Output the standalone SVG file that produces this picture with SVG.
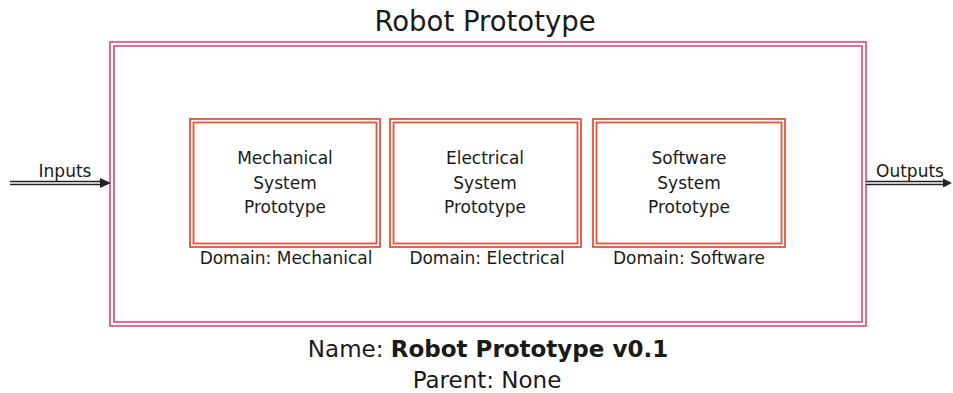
<svg xmlns="http://www.w3.org/2000/svg" width="953" height="393" viewBox="0 0 953 393">
  <style>
    .frame { fill: none; stroke: #e8588a; stroke-width: 1.8; }
    .box { fill: none; stroke: #e8503a; stroke-width: 1.8; }
    .t { font-family: "DejaVu Sans", Lato, sans-serif; fill: #1a1a1a; text-anchor: middle; }
    .lbl { font-size: 17px; }
    .wire { fill: none; stroke: #222; stroke-width: 4.5; }
    .core { fill: none; stroke: #fff; stroke-width: 1.3; }
  </style>

  <!-- system frame -->
  <g id="robot-prototype">
    <text class="t" x="485" y="31" font-size="27.5">Robot Prototype</text>
    <rect class="frame" x="110" y="42" width="756" height="284"/>
    <rect class="frame" x="114" y="46" width="748" height="276"/>
    <text class="t" x="488" y="357" font-size="23">Name: <tspan font-weight="bold">Robot Prototype v0.1</tspan></text>
    <text class="t" x="487" y="388" font-size="23">Parent: None</text>
  </g>

  <g id="mechanical">
    <rect class="box" x="190" y="119" width="190" height="128"/>
    <rect class="box" x="193.5" y="122.5" width="183" height="121"/>
    <text class="t lbl" x="285" y="164">Mechanical</text>
    <text class="t lbl" x="285" y="189">System</text>
    <text class="t lbl" x="285" y="213">Prototype</text>
    <text class="t lbl" x="286" y="264">Domain: Mechanical</text>
  </g>

  <g id="electrical">
    <rect class="box" x="390" y="119" width="191" height="128"/>
    <rect class="box" x="393.5" y="122.5" width="184" height="121"/>
    <text class="t lbl" x="485" y="164">Electrical</text>
    <text class="t lbl" x="485" y="189">System</text>
    <text class="t lbl" x="485" y="213">Prototype</text>
    <text class="t lbl" x="487" y="264">Domain: Electrical</text>
  </g>

  <g id="software">
    <rect class="box" x="593" y="119" width="192" height="128"/>
    <rect class="box" x="596.5" y="122.5" width="185" height="121"/>
    <text class="t lbl" x="689" y="164">Software</text>
    <text class="t lbl" x="689" y="189">System</text>
    <text class="t lbl" x="689" y="213">Prototype</text>
    <text class="t lbl" x="689" y="264">Domain: Software</text>
  </g>

  <!-- external flows -->
  <g id="connectors">
    <path class="wire" d="M10,183 H102"/>
    <path class="core" d="M10,183 H100"/>
    <path d="M100,178 L111,183 L100,188 Z" fill="#222"/>
    <text class="t lbl" x="65" y="177">Inputs</text>

    <path class="wire" d="M866,183 H946"/>
    <path class="core" d="M866,183 H944"/>
    <path d="M943,178.5 L952,183 L943,187.5 Z" fill="#222"/>
    <text class="t lbl" x="910" y="177">Outputs</text>
  </g>
</svg>
